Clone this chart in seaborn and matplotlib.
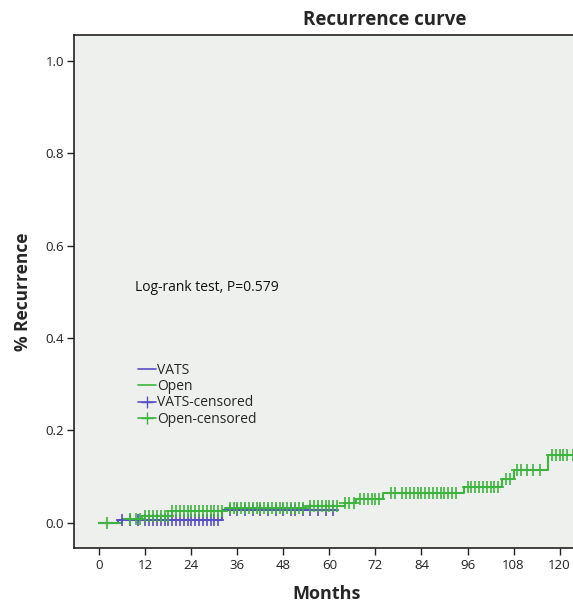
import numpy as np
import pandas as pd
import matplotlib
matplotlib.use("Agg")
import matplotlib.pyplot as plt
from matplotlib.lines import Line2D
import seaborn as sns

# ---- data ----
vats_times = [0, 5, 32, 62]
vats_vals = [0.0, 0.006, 0.028, 0.028]
open_times = [0, 6, 11, 19, 33, 54, 64, 67, 74, 95, 105, 108, 117, 125]
open_vals = [0.0, 0.008, 0.015, 0.025, 0.032, 0.037, 0.043, 0.051, 0.064, 0.078, 0.095, 0.114, 0.147, 0.147]

vats_censored = [6, 8, 10, 12, 13, 14, 15, 16, 17, 18, 19, 20, 21, 22, 23, 24, 25,
                 26, 27, 28, 29, 30, 31, 34, 36, 38, 40, 42, 44, 46, 48, 50, 51,
                 53, 55, 57, 59, 61]
open_censored = [2, 8, 9.5, 10.5, 12, 13, 14, 15, 16, 17, 18, 19, 20, 21, 22, 23, 24,
                 25, 26, 27, 28, 29, 30, 31, 32, 34, 35, 36, 37, 38, 39, 40, 41, 42,
                 43, 44, 45, 46, 47, 48, 49, 50, 51, 52, 53, 55, 56, 57, 58, 59, 60,
                 61, 62, 64, 65, 66.5, 68, 69, 70, 71, 72, 73, 76, 77, 79, 80, 81, 82,
                 83, 84, 85, 86, 87, 88, 89, 90, 91, 92, 93, 96, 97, 98, 99, 100,
                 101, 102, 103, 104, 106, 107, 109, 110, 111.5, 113, 115, 118, 119,
                 120, 121, 122, 123.5]

groups = ["VATS", "Open"]
x_ticks = [0, 12, 24, 36, 48, 60, 72, 84, 96, 108, 120]
y_ticks = [0.0, 0.2, 0.4, 0.6, 0.8, 1.0]
annotation = "Log-rank test, P=0.579"

colors = {"VATS": "#5a4ec4", "Open": "#3db43d"}

# ---- build tables ----
curves = pd.concat([
    pd.DataFrame({"Months": vats_times, "Recurrence": vats_vals, "Group": "VATS"}),
    pd.DataFrame({"Months": open_times, "Recurrence": open_vals, "Group": "Open"}),
], ignore_index=True)

def level_at(times, vals, t):
    idx = np.searchsorted(times, t, side="right") - 1
    return np.asarray(vals)[idx]

cens = pd.concat([
    pd.DataFrame({"Months": vats_censored,
                  "Recurrence": level_at(vats_times, vats_vals, vats_censored),
                  "Group": "VATS"}),
    pd.DataFrame({"Months": open_censored,
                  "Recurrence": level_at(open_times, open_vals, open_censored),
                  "Group": "Open"}),
], ignore_index=True)

sns.set_theme(style="ticks")
plt.rcParams["font.family"] = ["Open Sans", "DejaVu Sans"]

fig = plt.figure(figsize=(5.73, 6.04), dpi=100)
fig.patch.set_facecolor("white")
ax = fig.add_axes([74/573, 1 - 548/604, 1 - 74/573 + 0.01, (548 - 35)/604])
ax.set_facecolor("#eef0ed")

for g in groups:
    sub = curves[curves.Group == g]
    sns.lineplot(data=sub, x="Months", y="Recurrence", ax=ax, color=colors[g],
                 drawstyle="steps-post", linewidth=1.5, legend=False, errorbar=None,
                 estimator=None, sort=False)
for g in groups:
    sub = cens[cens.Group == g]
    sns.scatterplot(data=sub, x="Months", y="Recurrence", ax=ax, color=colors[g],
                    marker="+", s=65, linewidth=1.2, legend=False, zorder=3)

ax.set_xlim(-6.6, 125)
ax.set_ylim(-0.055, 1.056)
ax.set_xticks(x_ticks)
ax.set_yticks(y_ticks)
ax.set_yticklabels([f"{v:.1f}" for v in y_ticks])
ax.tick_params(axis="both", labelsize=9.5, length=5, width=1, colors="#222222",
               labelcolor="#222222", direction="out")
ax.tick_params(axis="x", pad=3)
ax.tick_params(axis="y", pad=2)
for s in ["left", "bottom", "top"]:
    ax.spines[s].set_color("#222222")
    ax.spines[s].set_linewidth(1.2)
ax.spines["right"].set_visible(False)

ax.set_xlabel("Months", fontsize=13, fontweight="bold", labelpad=9)
ax.set_ylabel("% Recurrence", fontsize=12.5, fontweight="bold", labelpad=10)

fig.text(385/573, 1 - 20/604, "Recurrence curve", ha="center", va="center",
         fontsize=13.5, fontweight="bold")

ax.text(0.12, 0.507, annotation, transform=ax.transAxes, fontsize=10,
        va="center", ha="left", color="#111111")

handles = [
    Line2D([], [], color=colors["VATS"], lw=1.2),
    Line2D([], [], color=colors["Open"], lw=1.2),
    Line2D([], [], color=colors["VATS"], lw=1.2, marker="+", markersize=9),
    Line2D([], [], color=colors["Open"], lw=1.2, marker="+", markersize=9),
]
labels = ["VATS", "Open", "VATS-censored", "Open-censored"]
ax.legend(handles, labels, loc="upper left", bbox_to_anchor=(0.115, 0.372),
          frameon=False, fontsize=10, handlelength=1.3, handletextpad=0.1,
          labelspacing=0.1, borderaxespad=0)

fig.savefig("out.png", dpi=100, facecolor=fig.get_facecolor())
